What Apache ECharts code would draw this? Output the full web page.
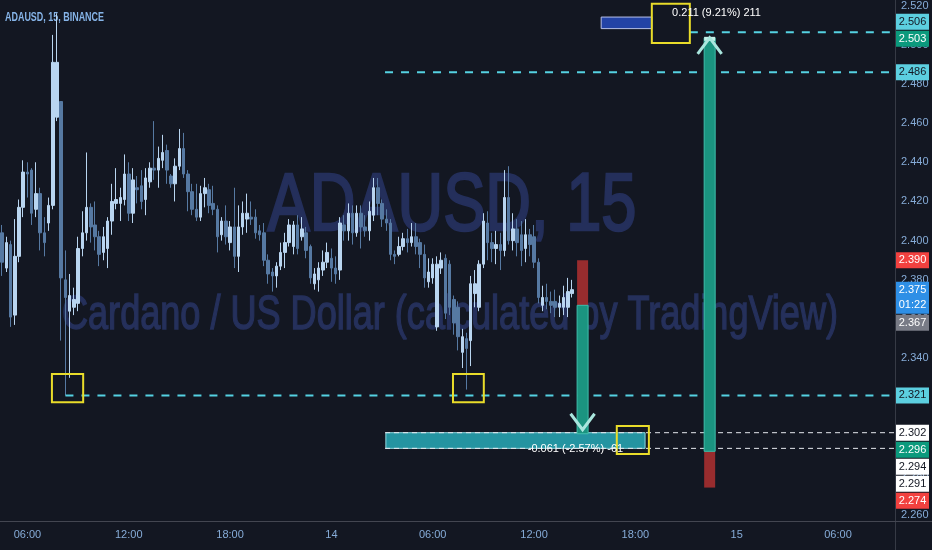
<!DOCTYPE html>
<html><head><meta charset="utf-8">
<script src="https://cdn.jsdelivr.net/npm/echarts@6/dist/echarts.min.js"></script>
<style>html,body{margin:0;padding:0;background:#131722;}#c{width:932px;height:550px;}</style>
</head><body><div id="c"></div>
<script>
// ---- time slots (15-minute bars) ----
const startDay = 13, startMinute = 4 * 60 + 30, slotCount = 212;
const categories = [];
for (let k = 0; k < slotCount; k++) {
  const t = startMinute + 15 * k, d = startDay + Math.floor(t / 1440), m = t % 1440;
  categories.push(d + ' ' + String(Math.floor(m / 60)).padStart(2, '0') + ':' + String(m % 60).padStart(2, '0'));
}
const timeTicks = ['13 06:00','13 12:00','13 18:00','14 00:00','14 06:00','14 12:00','14 18:00','15 00:00','15 06:00'];
const timeTickLabels = ['06:00','12:00','18:00','14','06:00','12:00','18:00','15','06:00'];

// ---- OHLC ----
const open = [2.404,2.386,2.398,2.362,2.392,2.417,2.435,2.436,2.416,2.424,2.404,2.409,2.418,2.463,2.471,2.380,2.364,2.366,2.368,2.396,
2.404,2.417,2.408,2.402,2.394,2.396,2.410,2.419,2.419,2.421,2.434,2.414,2.427,2.428,2.421,2.430,2.437,2.436,2.441,2.446,
2.433,2.429,2.438,2.447,2.434,2.425,2.416,2.412,2.424,2.426,2.419,2.416,2.403,2.410,2.399,2.407,2.392,2.407,2.411,2.412,
2.412,2.405,2.404,2.390,2.384,2.382,2.387,2.394,2.399,2.397,2.408,2.402,2.404,2.397,2.378,2.380,2.385,2.389,2.391,2.386,
2.385,2.408,2.405,2.414,2.404,2.414,2.407,2.405,2.413,2.427,2.419,2.411,2.409,2.393,2.393,2.397,2.401,2.399,2.402,2.399,
2.393,2.379,2.381,2.356,2.386,2.391,2.388,2.370,2.366,2.343,2.350,2.349,2.373,2.366,2.388,2.409,2.399,2.396,2.398,2.395,
2.422,2.400,2.406,2.403,2.396,2.403,2.402,2.389,2.367,2.371,2.369,2.369,2.366,2.366,2.366,2.373];
const close = [2.389,2.399,2.361,2.392,2.417,2.435,2.434,2.414,2.424,2.404,2.399,2.418,2.491,2.491,2.381,2.371,2.372,2.370,2.396,2.404,
2.417,2.407,2.402,2.393,2.402,2.410,2.420,2.421,2.422,2.434,2.414,2.431,2.426,2.420,2.432,2.437,2.436,2.442,2.445,2.436,
2.429,2.438,2.447,2.434,2.425,2.416,2.412,2.424,2.427,2.418,2.416,2.402,2.410,2.402,2.407,2.392,2.407,2.414,2.414,2.411,
2.404,2.403,2.390,2.383,2.382,2.387,2.394,2.399,2.408,2.408,2.396,2.406,2.395,2.381,2.383,2.386,2.389,2.394,2.386,2.383,
2.409,2.405,2.414,2.404,2.414,2.407,2.405,2.415,2.427,2.419,2.411,2.409,2.393,2.392,2.397,2.401,2.399,2.402,2.397,2.393,
2.381,2.384,2.388,2.388,2.390,2.363,2.366,2.358,2.351,2.351,2.345,2.378,2.378,2.388,2.410,2.399,2.396,2.398,2.395,2.422,
2.400,2.406,2.399,2.395,2.403,2.398,2.389,2.371,2.371,2.369,2.367,2.366,2.368,2.371,2.374,2.375];
const low = [2.382,2.384,2.356,2.357,2.389,2.412,2.422,2.408,2.412,2.395,2.392,2.405,2.416,2.461,2.349,2.321,2.330,2.362,2.364,2.392,
2.400,2.399,2.395,2.387,2.390,2.386,2.403,2.416,2.410,2.418,2.410,2.409,2.419,2.416,2.413,2.427,2.431,2.427,2.437,2.429,
2.427,2.420,2.436,2.432,2.415,2.413,2.410,2.410,2.417,2.414,2.413,2.394,2.400,2.398,2.395,2.386,2.384,2.403,2.404,2.408,
2.401,2.400,2.387,2.378,2.374,2.376,2.385,2.386,2.397,2.393,2.393,2.400,2.391,2.378,2.375,2.374,2.382,2.386,2.379,2.378,
2.380,2.400,2.400,2.398,2.402,2.396,2.402,2.400,2.410,2.413,2.407,2.405,2.390,2.388,2.392,2.395,2.394,2.397,2.393,2.386,
2.376,2.376,2.378,2.354,2.383,2.360,2.362,2.352,2.344,2.335,2.324,2.336,2.366,2.364,2.386,2.390,2.389,2.388,2.385,2.392,
2.398,2.395,2.392,2.387,2.389,2.392,2.386,2.368,2.364,2.365,2.363,2.361,2.361,2.362,2.361,2.371];
const high = [2.408,2.402,2.400,2.411,2.421,2.441,2.440,2.437,2.440,2.427,2.412,2.422,2.505,2.516,2.471,2.395,2.383,2.376,2.402,2.415,
2.445,2.419,2.420,2.405,2.407,2.412,2.429,2.437,2.427,2.444,2.440,2.437,2.433,2.436,2.437,2.440,2.461,2.448,2.454,2.449,
2.434,2.442,2.457,2.455,2.436,2.429,2.429,2.428,2.432,2.429,2.428,2.418,2.412,2.418,2.410,2.427,2.418,2.420,2.424,2.420,
2.416,2.408,2.409,2.393,2.386,2.389,2.399,2.404,2.411,2.410,2.413,2.412,2.407,2.398,2.386,2.389,2.395,2.399,2.396,2.392,
2.412,2.413,2.419,2.418,2.418,2.418,2.413,2.420,2.432,2.432,2.421,2.416,2.411,2.395,2.402,2.404,2.406,2.409,2.409,2.401,
2.398,2.391,2.391,2.392,2.394,2.393,2.390,2.372,2.369,2.355,2.353,2.382,2.385,2.390,2.414,2.415,2.404,2.405,2.404,2.436,
2.438,2.414,2.411,2.410,2.411,2.406,2.408,2.391,2.377,2.378,2.374,2.375,2.372,2.377,2.381,2.380];

// ---- drawings (slot index, price) ----
const yellowBoxes = [[11.8,19.2,2.332,2.3175],[106.8,114.1,2.332,2.3175],[153.9,162.9,2.5209,2.5008],[145.6,153.2,2.3054,2.2911]];
const blueBox = [141.9,153.9,2.5141,2.5082];
const tealBox = [90.9,152.3,2.302,2.294];
const cyanLevels = [[15,2.321],[90.7,2.486],[162.9,2.5064]];
const whiteLevels = [[90.7,2.302],[90.7,2.294]];
// [slot, stop price, entry price, target price]
const shortMove = [137.5,2.390,2.367,2.3035];
const longMove = [167.6,2.274,2.2925,2.5035];
const measureTexts = [[158.7,2.516,'0.211 (9.21%) 211','left'],[147.1,2.2937,'-0.061 (-2.57%) -61','right']];

// ---- price-scale tags ----
const tagPrices = [2.506,2.503,2.486,2.390,2.375,2.367,2.321,2.302,2.296,2.294,2.291,2.274];
const tagKinds  = ['cyan','teal','cyan','red','blue','grey','cyan','white','teal','white','white','red'];
const tagNotes  = ['','','','','01:22','','','','','','',''];
const tagPinned = [0,1,1,1,1,0,1,1,0,0,0,0];

const tagStyle = {
  cyan:{bg:'#5ccfe0',fg:'#131722'}, teal:{bg:'#0b9a7d',fg:'#ffffff'}, red:{bg:'#f2413f',fg:'#ffffff'},
  blue:{bg:'#2e8fe6',fg:'#ffffff'}, grey:{bg:'#787b86',fg:'#ffffff'}, white:{bg:'#ffffff',fg:'#131722'}
};
const F = "'Liberation Sans Narrow','Liberation Sans',Arial,sans-serif";
const axisColor = '#86acd8';

function renderDrawings(params, api) {
  const cs = params.coordSys;
  const right = cs.x + cs.width;
  const bw = api.size([1, 0])[0];
  const x0 = api.coord([0, 2.4])[0];
  const X = s => x0 + s * bw;
  const Y = p => api.coord([0, p])[1];
  const ch = [];
  const rect = (xa, xb, ya, yb, style) => ({type:'rect', shape:{x:Math.min(xa,xb), y:Math.min(ya,yb), width:Math.abs(xb-xa), height:Math.abs(yb-ya)}, style});
  ch.push(rect(X(tealBox[0]), X(tealBox[1]), Y(tealBox[2]), Y(tealBox[3]), {fill:'rgba(38,160,172,0.92)', stroke:'#8ed9e0', lineWidth:1}));
  ch.push(rect(X(blueBox[0]), X(blueBox[1]), Y(blueBox[2]), Y(blueBox[3]), {fill:'#2343a6', stroke:'#b8c2ea', lineWidth:1}));
  cyanLevels.forEach(l => ch.push({type:'line', shape:{x1:X(l[0]), y1:Y(l[1]), x2:right, y2:Y(l[1])}, style:{stroke:'#55d2e2', lineWidth:2, lineDash:[8,8]}}));
  whiteLevels.forEach(l => ch.push({type:'line', shape:{x1:X(l[0]), y1:Y(l[1]), x2:right, y2:Y(l[1])}, style:{stroke:'#e6e8ee', lineWidth:1, lineDash:[5,4]}}));
  const hw = 5.5;
  [[shortMove, -1], [longMove, 1]].forEach(([m, dir]) => {
    const xc = X(m[0]);
    ch.push(rect(xc-hw, xc+hw, Y(m[1]), Y(m[2]), {fill:'#982c2e'}));
    ch.push(rect(xc-hw, xc+hw, Y(m[2]), Y(m[3]) + (dir < 0 ? 4 : 0), {fill:'#1b9480', stroke:'#3fbfac', lineWidth:1}));
    const yt = Y(m[3]);
    if (dir > 0) ch.push(rect(xc-hw, xc+hw, yt-1, yt+3, {fill:'#c5efe9'}));
    ch.push({type:'polyline', shape:{points:[[xc-12, yt + dir*16],[xc, yt],[xc+12, yt + dir*16]]}, style:{stroke:'#a9e6de', lineWidth:3, fill:null}});
  });
  yellowBoxes.forEach(b => ch.push(rect(X(b[0]), X(b[1]), Y(b[2]), Y(b[3]), {fill:null, stroke:'#e9dc2a', lineWidth:2})));
  measureTexts.forEach(t => ch.push({type:'text', style:{text:t[2], x:X(t[0]), y:Y(t[1]), fill:'#ffffff', font:'11px ' + F, align:t[3], verticalAlign:'middle'}}));
  const tags = tagPrices.map((p, i) => ({p, i, y:Y(p), up:8, down: tagNotes[i] ? 24 : 8}));
  tags.sort((a, b) => a.y - b.y);
  for (let k = 1; k < tags.length; k++) {
    const a = tags[k-1], b = tags[k];
    if (!tagPinned[b.i] && b.y - b.up < a.y + a.down + 1) b.y = a.y + a.down + 1 + b.up;
  }
  for (let k = tags.length - 2; k >= 0; k--) {
    const a = tags[k], b = tags[k+1];
    if (!tagPinned[a.i] && a.y + a.down > b.y - b.up - 1) a.y = b.y - b.up - 1 - a.down;
  }
  tags.forEach(t => {
    const st = tagStyle[tagKinds[t.i]];
    ch.push(rect(right + 1, right + 34, t.y - t.up, t.y + t.down, {fill:st.bg}));
    ch.push({type:'text', style:{text:t.p.toFixed(3), x:right + 17.5, y:t.y, fill:st.fg, font:'11px ' + F, align:'center', verticalAlign:'middle'}});
    if (tagNotes[t.i]) ch.push({type:'text', style:{text:tagNotes[t.i], x:right + 17.5, y:t.y + 15, fill:st.fg, font:'11px ' + F, align:'center', verticalAlign:'middle'}});
  });
  return {type:'group', children:ch};
}

const mctx = document.createElement('canvas').getContext('2d');
function fitScale(txt, font, target) { mctx.font = font; return target / mctx.measureText(txt).width; }
const wm1 = 'ADAUSD, 15', wm1Font = '82px "Liberation Sans"';
const wm2 = 'Cardano / US Dollar (calculated by TradingView)', wm2Font = '48px "Liberation Sans"';
const hdr = 'ADAUSD, 15, BINANCE', hdrFont = 'bold 13px "Liberation Sans"';

const chart = echarts.init(document.getElementById('c'), null, {renderer:'canvas'});
chart.setOption({
  backgroundColor:'#131722',
  animation:false,
  grid:{left:0, right:37, top:5, bottom:35},
  xAxis:{type:'category', data:categories, boundaryGap:true,
    axisLine:{show:false}, axisTick:{show:false}, splitLine:{show:false},
    axisLabel:{color:axisColor, fontSize:11, fontFamily:F, margin:14, hideOverlap:false,
      interval:(idx, val) => timeTicks.includes(val),
      formatter:val => timeTickLabels[timeTicks.indexOf(val)]}},
  yAxis:{type:'value', position:'right', min:2.26, max:2.52, interval:0.02, scale:true,
    axisLine:{show:false}, axisTick:{show:false}, splitLine:{show:false},
    axisLabel:{color:axisColor, fontSize:11, fontFamily:F, margin:6, formatter:v => v.toFixed(3)}},
  graphic:[
    {type:'text', x:452, y:207, scaleX:fitScale(wm1, wm1Font, 369), z:-1, silent:true,
     style:{text:wm1, x:0, y:0, font:wm1Font, fill:'#242f5b', stroke:'#242f5b', lineWidth:2.5, align:'center', verticalAlign:'middle'}},
    {type:'text', x:450, y:316, scaleX:fitScale(wm2, wm2Font, 776), z:-1, silent:true,
     style:{text:wm2, x:0, y:0, font:wm2Font, fill:'#25305b', stroke:'#25305b', lineWidth:1.5, align:'center', verticalAlign:'middle'}},
    {type:'text', x:5, y:17, scaleX:fitScale(hdr, hdrFont, 99), silent:true,
     style:{text:hdr, x:0, y:0, font:hdrFont, fill:'#86b4e8', align:'left', verticalAlign:'middle'}},
    {type:'line', shape:{x1:895.5, y1:0, x2:895.5, y2:550}, style:{stroke:'#363a45', lineWidth:1}, silent:true},
    {type:'line', shape:{x1:0, y1:521.5, x2:932, y2:521.5}, style:{stroke:'#434651', lineWidth:1}, silent:true}
  ],
  series:[
    {type:'candlestick', barWidth:3, z:2,
     data:open.map((o, i) => [o, close[i], low[i], high[i]]),
     itemStyle:{color:'#b9d5f0', color0:'#5679a2', borderColor:'#b9d5f0', borderColor0:'#5679a2', borderWidth:1}},
    {type:'custom', z:5, clip:false, silent:true, data:[[0, 2.4]], renderItem:renderDrawings}
  ]
});
</script></body></html>
